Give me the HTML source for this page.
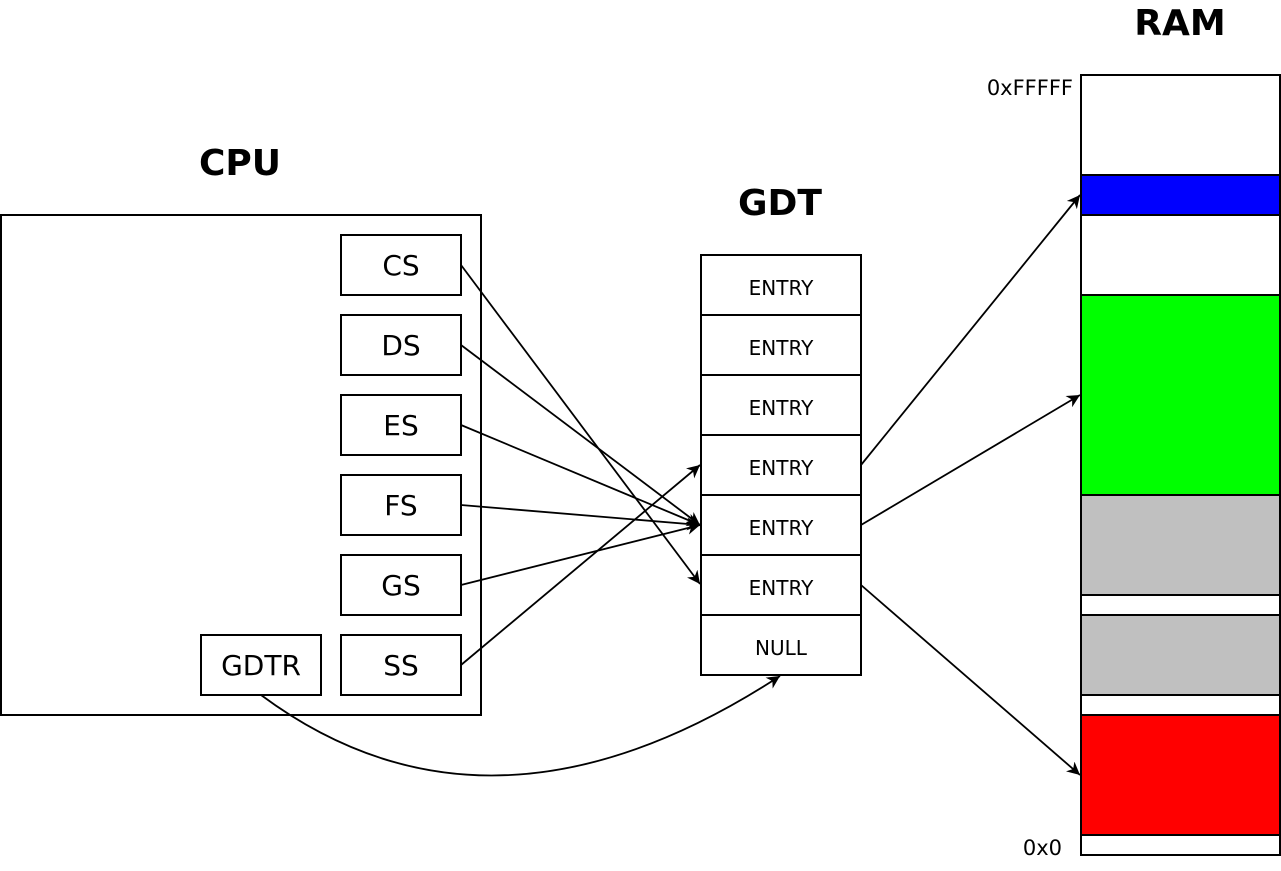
<!DOCTYPE html>
<html><head><meta charset="utf-8"><style>
html,body{margin:0;padding:0;background:#fff;}
svg{display:block;}
text{font-family:"DejaVu Sans","Liberation Sans",sans-serif;}
</style></head><body>
<svg width="1281" height="871" viewBox="0 0 1281 871" xmlns="http://www.w3.org/2000/svg">
<defs>
<marker id="a" viewBox="0 0 10 10" refX="10" refY="5" markerWidth="13" markerHeight="13" markerUnits="userSpaceOnUse" orient="auto">
<path d="M0,0 L10,5 L0,10 L3,5 z" fill="#000"/>
</marker>
</defs>
<g fill="none" stroke="#000" stroke-width="2">
<rect x="1" y="215" width="480" height="500"/>
<rect x="341" y="235" width="120" height="60"/>
<rect x="341" y="315" width="120" height="60"/>
<rect x="341" y="395" width="120" height="60"/>
<rect x="341" y="475" width="120" height="60"/>
<rect x="341" y="555" width="120" height="60"/>
<rect x="341" y="635" width="120" height="60"/>
<rect x="201" y="635" width="120" height="60"/>
<rect x="701" y="255" width="160" height="60"/>
<rect x="701" y="315" width="160" height="60"/>
<rect x="701" y="375" width="160" height="60"/>
<rect x="701" y="435" width="160" height="60"/>
<rect x="701" y="495" width="160" height="60"/>
<rect x="701" y="555" width="160" height="60"/>
<rect x="701" y="615" width="160" height="60"/>
</g>
<g stroke="#000" stroke-width="2">
<rect x="1081" y="75" width="199" height="100" fill="#fff"/>
<rect x="1081" y="175" width="199" height="40" fill="#0000ff"/>
<rect x="1081" y="215" width="199" height="80" fill="#fff"/>
<rect x="1081" y="295" width="199" height="200" fill="#00ff00"/>
<rect x="1081" y="495" width="199" height="100" fill="#c0c0c0"/>
<rect x="1081" y="595" width="199" height="20" fill="#fff"/>
<rect x="1081" y="615" width="199" height="80" fill="#c0c0c0"/>
<rect x="1081" y="695" width="199" height="20" fill="#fff"/>
<rect x="1081" y="715" width="199" height="120" fill="#ff0000"/>
<rect x="1081" y="835" width="199" height="20" fill="#fff"/>
</g>
<g stroke="#000" stroke-width="1.8" fill="none" marker-end="url(#a)">
<line x1="461" y1="265" x2="700" y2="584"/>
<line x1="461" y1="345" x2="700" y2="525"/>
<line x1="461" y1="425" x2="700" y2="525"/>
<line x1="461" y1="505" x2="700" y2="525"/>
<line x1="461" y1="585" x2="700" y2="525"/>
<line x1="461" y1="665" x2="700" y2="465"/>
<line x1="861" y1="465" x2="1080" y2="195"/>
<line x1="861" y1="525" x2="1080" y2="395"/>
<line x1="861" y1="585" x2="1080" y2="775"/>
<path d="M261,695 Q490,865 780,676"/>
</g>
<g font-weight="bold" font-size="36" text-anchor="middle">
<text x="240" y="175">CPU</text>
<text x="780" y="215">GDT</text>
<text x="1180" y="35">RAM</text>
</g>
<g font-size="28" text-anchor="middle">
<text x="401" y="275">CS</text>
<text x="401" y="355">DS</text>
<text x="401" y="435">ES</text>
<text x="401" y="515">FS</text>
<text x="401" y="595">GS</text>
<text x="401" y="675">SS</text>
<text x="261" y="675">GDTR</text>
</g>
<g font-size="20" text-anchor="middle">
<text x="781" y="295">ENTRY</text>
<text x="781" y="355">ENTRY</text>
<text x="781" y="415">ENTRY</text>
<text x="781" y="475">ENTRY</text>
<text x="781" y="535">ENTRY</text>
<text x="781" y="595">ENTRY</text>
<text x="781" y="655">NULL</text>
</g>
<g font-size="21" text-anchor="end">
<text x="1073" y="95">0xFFFFF</text>
<text x="1062" y="855">0x0</text>
</g>
</svg>
</body></html>
